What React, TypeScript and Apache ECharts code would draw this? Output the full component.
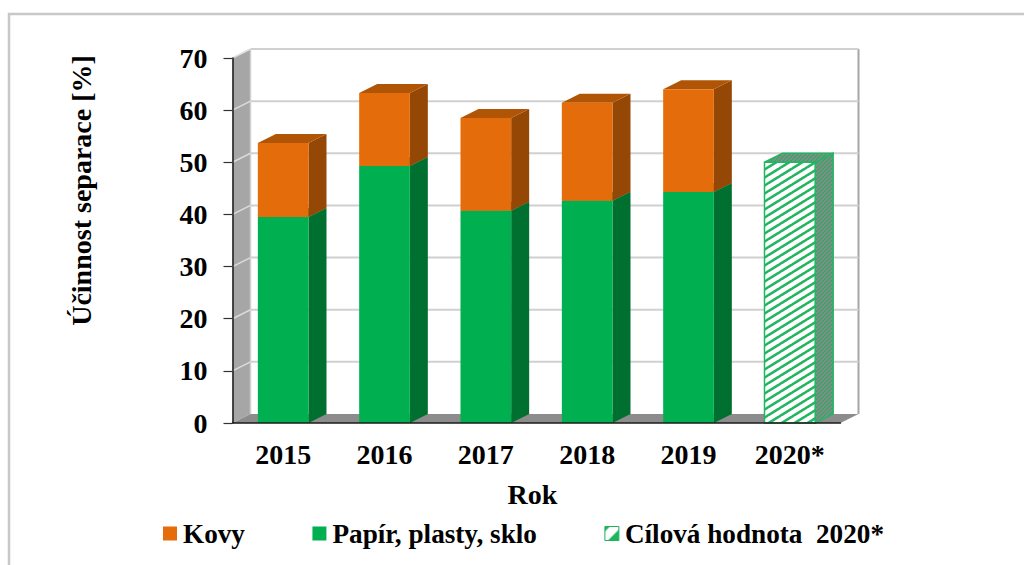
import React, { useEffect, useRef } from "react";
import * as echarts from "echarts";

const years = ["2015", "2016", "2017", "2018", "2019", "2020*"];
const paperPlasticGlass = [39.5, 49.3, 40.7, 42.6, 44.3];
const metals = [14.2, 14.0, 17.8, 18.8, 19.7];
const target2020 = 50;
const yTicks = [0, 10, 20, 30, 40, 50, 60, 70];

const FONT = '"Liberation Serif", "Times New Roman", serif';
const GREEN = "#00b050";
const GREEN_SIDE = "#007030";
const GREEN_TOP = "#008a40";
const ORANGE = "#e46c0a";
const ORANGE_SIDE = "#954805";
const ORANGE_TOP = "#b05505";
const DX = 18;
const DY = -9;

// Repeating diagonal stripes for the target bar's faces.
function stripes(w: number, h: number, bg: string, fg: string, lw: number) {
  const c = document.createElement("canvas");
  c.width = w;
  c.height = h;
  const g = c.getContext("2d")!;
  g.fillStyle = bg;
  g.fillRect(0, 0, w, h);
  g.strokeStyle = fg;
  g.lineWidth = lw;
  for (let i = -1; i <= 1; i++) {
    g.beginPath();
    g.moveTo(i * w - 1, h + 1 * (h / w));
    g.lineTo(i * w + w + 1, -(h / w));
    g.stroke();
  }
  return { image: c, repeat: "repeat", imageWidth: w, imageHeight: h };
}

function legendSwatch() {
  const c = document.createElement("canvas");
  c.width = 14;
  c.height = 14;
  const g = c.getContext("2d")!;
  g.fillStyle = "#ffffff";
  g.fillRect(0, 0, 14, 14);
  g.fillStyle = "#1db45c";
  g.beginPath();
  g.moveTo(14, 3);
  g.lineTo(14, 14);
  g.lineTo(3, 14);
  g.fill();
  g.beginPath();
  g.moveTo(0, 0);
  g.lineTo(5, 0);
  g.lineTo(0, 5);
  g.fill();
  return { image: c, repeat: "no-repeat", imageWidth: 14, imageHeight: 14 };
}

function box3d(api: any, front: any, top: any, side: any, stroke?: string) {
  const cat = api.value(0);
  const low = api.coord([cat, api.value(1)]);
  const high = api.coord([cat, api.value(2)]);
  const w = api.size([1, 0])[0] * 0.5;
  const x0 = low[0] - w / 2;
  const x1 = low[0] + w / 2;
  const extra = stroke ? { stroke, lineWidth: 1.5 } : {};
  return {
    type: "group",
    children: [
      {
        type: "polygon",
        shape: { points: [[x1, high[1]], [x1 + DX, high[1] + DY], [x1 + DX, low[1] + DY], [x1, low[1]]] },
        style: { fill: side, ...extra },
      },
      {
        type: "polygon",
        shape: { points: [[x0, high[1]], [x0 + DX, high[1] + DY], [x1 + DX, high[1] + DY], [x1, high[1]]] },
        style: { fill: top, ...extra },
      },
      {
        type: "rect",
        shape: { x: x0, y: high[1], width: w, height: low[1] - high[1] },
        style: { fill: front, ...extra },
      },
    ],
  };
}

export default function App() {
  const ref = useRef<HTMLDivElement>(null);

  useEffect(() => {
    const chart = echarts.init(ref.current!, undefined, { renderer: "svg" });
    const hatch = stripes(13, 8, "#ffffff", "#23b562", 2.6);
    const denseHatch = stripes(4, 4, "#858f88", "#2aa862", 1.1);

    const greenData = paperPlasticGlass.map((v, i) => [i, 0, v]);
    const orangeData = metals.map((v, i) => [i, paperPlasticGlass[i], paperPlasticGlass[i] + v]);

    chart.setOption({
      animation: false,
      backgroundColor: "#ffffff",
      grid: { left: 232.5, top: 58, width: 608, height: 365 },
      textStyle: { fontFamily: FONT },
      graphic: [
        {
          type: "polyline",
          silent: true,
          shape: { points: [[9, 565], [9, 14], [1024, 14]] },
          style: { fill: "none", stroke: "#c8c8c8", lineWidth: 2.5 },
        },
      ],
      legend: {
        left: 163,
        top: 520,
        itemWidth: 14,
        itemHeight: 14,
        itemGap: 67.5,
        padding: 0,
        textStyle: { fontFamily: FONT, fontWeight: "bold", fontSize: 27.2, color: "#000000", padding: [2, 0, 0, 1] },
        data: [
          { name: "Kovy", icon: "rect", itemStyle: { color: ORANGE } },
          { name: "Papír, plasty, sklo", icon: "rect", itemStyle: { color: GREEN } },
          {
            name: "Cílová hodnota  2020*",
            icon: "rect",
            itemStyle: { color: legendSwatch(), borderColor: "#1db45c", borderWidth: 1 },
          },
        ],
      },
      xAxis: {
        type: "category",
        data: years,
        z: 6,
        name: "Rok",
        nameLocation: "middle",
        nameGap: 57,
        nameTextStyle: { fontFamily: FONT, fontWeight: "bold", fontSize: 28, color: "#000", padding: [0, 8, 0, 0] },
        axisLine: { lineStyle: { color: "#1a1a1a", width: 1.5 } },
        axisTick: { length: 8, lineStyle: { color: "#333", width: 1.2 }, alignWithLabel: false },
        axisLabel: { fontFamily: FONT, fontWeight: "bold", fontSize: 28, color: "#000", margin: 17 },
      },
      yAxis: {
        type: "value",
        min: 0,
        max: 70,
        interval: 10,
        z: 6,
        name: "Účinnost separace [%]",
        nameLocation: "middle",
        nameGap: 137,
        nameRotate: 90,
        nameTextStyle: { fontFamily: FONT, fontWeight: "bold", fontSize: 28, color: "#000", padding: [0, 0, 0, 100] },
        axisLine: { show: true, lineStyle: { color: "#1a1a1a", width: 1.5 } },
        axisTick: { show: true, length: 9, lineStyle: { color: "#333", width: 1.2 } },
        axisLabel: { fontFamily: FONT, fontWeight: "bold", fontSize: 28, color: "#000", margin: 25 },
        splitLine: { show: false },
      },
      series: [
        {
          // Side wall and floor of the 3D plot box.
          type: "custom",
          name: "walls",
          silent: true,
          z: 1,
          data: [[0]],
          renderItem: (params: any, api: any) => {
            const cs = params.coordSys;
            const l = cs.x;
            const r = cs.x + cs.width;
            const t = api.coord([0, 70])[1];
            const b = api.coord([0, 0])[1];
            return {
              type: "group",
              children: [
                {
                  type: "polygon",
                  shape: { points: [[l, b], [l + DX, b + DY], [l + DX, t + DY], [l, t]] },
                  style: { fill: "#a6a6a6" },
                },
                {
                  type: "polygon",
                  shape: { points: [[l, b], [l + DX, b + DY], [r + DX, b + DY], [r, b]] },
                  style: { fill: "#8c8c8c" },
                },
                {
                  type: "line",
                  shape: { x1: r + DX, y1: t + DY, x2: r + DX, y2: b + DY },
                  style: { stroke: "#a6a6a6", lineWidth: 2 },
                },
                {
                  type: "line",
                  shape: { x1: l + DX, y1: t + DY, x2: l + DX, y2: b + DY },
                  style: { stroke: "#d0d0d0", lineWidth: 1.5 },
                },
              ],
            };
          },
        },
        {
          // Gridlines running along the back and side walls.
          type: "custom",
          name: "gridlines",
          silent: true,
          z: 2,
          data: yTicks.slice(1).map((v) => [0, v]),
          encode: { x: 0, y: 1 },
          renderItem: (params: any, api: any) => {
            const cs = params.coordSys;
            const y = api.coord([0, api.value(1)])[1];
            return {
              type: "group",
              children: [
                {
                  type: "line",
                  shape: { x1: cs.x + DX, y1: y + DY, x2: cs.x + cs.width + DX, y2: y + DY },
                  style: { stroke: "#d0d0d0", lineWidth: 2 },
                },
                {
                  type: "line",
                  shape: { x1: cs.x, y1: y, x2: cs.x + DX, y2: y + DY },
                  style: { stroke: "#dcdcdc", lineWidth: 1.5 },
                },
              ],
            };
          },
        },
        {
          type: "custom",
          name: "Papír, plasty, sklo",
          z: 3,
          data: greenData,
          encode: { x: 0, y: 2 },
          itemStyle: { color: GREEN },
          renderItem: (_: any, api: any) => box3d(api, GREEN, GREEN_TOP, GREEN_SIDE),
        },
        {
          type: "custom",
          name: "Kovy",
          z: 3,
          data: orangeData,
          encode: { x: 0, y: 2 },
          itemStyle: { color: ORANGE },
          renderItem: (_: any, api: any) => box3d(api, ORANGE, ORANGE_TOP, ORANGE_SIDE),
        },
        {
          type: "custom",
          name: "Cílová hodnota  2020*",
          z: 3,
          data: [[5, 0, target2020]],
          encode: { x: 0, y: 2 },
          itemStyle: { color: GREEN },
          renderItem: (_: any, api: any) => box3d(api, hatch, denseHatch, denseHatch, "#23b562"),
        },
      ],
    });
    return () => chart.dispose();
  }, []);

  return (
    <div
      ref={ref}
      style={{ position: "fixed", left: 0, top: 0, width: 1024, height: 565 }}
    />
  );
}
